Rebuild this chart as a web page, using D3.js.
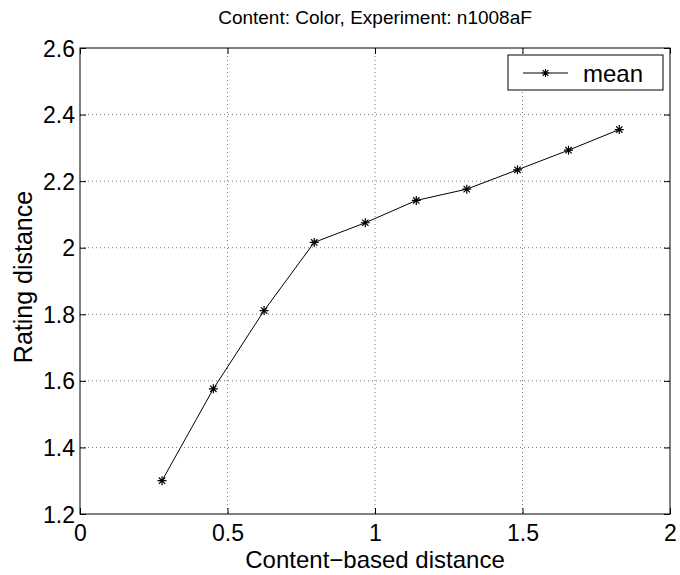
<!DOCTYPE html>
<html>
<head>
<meta charset="utf-8">
<script src="https://cdn.jsdelivr.net/npm/d3@7"></script>
<style>
  html, body { margin: 0; padding: 0; background: #fff; }
  svg { display: block; font-family: "Liberation Sans", Arial, Helvetica, sans-serif; }
  .axis path { display: none; }
  .axis line { stroke: #000; }
  .axis text { fill: #000; font-size: 23px; }
  .grid line { stroke: #777; stroke-dasharray: 1,3; }
</style>
</head>
<body>
<svg id="chart"></svg>
<script>
const titleText = 'Content: Color, Experiment: n1008aF';
const xLabel = 'Content\u2212based distance';
const yLabel = 'Rating distance';
const seriesName = 'mean';

const contentDistance = [0.278, 0.452, 0.624, 0.794, 0.967, 1.140, 1.311, 1.483, 1.656, 1.828];
const meanRating = [1.300, 1.576, 1.811, 2.016, 2.075, 2.142, 2.176, 2.234, 2.293, 2.355];

const xTicks = [0, 0.5, 1, 1.5, 2];
const yTicks = [1.2, 1.4, 1.6, 1.8, 2, 2.2, 2.4, 2.6];

const width = 680;
const height = 575;
const padding = { top: 48, left: 80, bottom: 61, right: 10 };
const canvasWidth = width - padding.left - padding.right;
const canvasHeight = height - padding.top - padding.bottom;

// MATLAB style '*' marker: a plus and a cross
const starSymbol = {
  draw(ctx, size) {
    const r = Math.sqrt(size) / 2;
    const d = r * Math.SQRT1_2;
    ctx.moveTo(-r, 0); ctx.lineTo(r, 0);
    ctx.moveTo(0, -r); ctx.lineTo(0, r);
    ctx.moveTo(-d, -d); ctx.lineTo(d, d);
    ctx.moveTo(-d, d); ctx.lineTo(d, -d);
  }
};

const svg = d3.select('#chart').attr('width', width).attr('height', height);
const canvas = svg.append('g').attr('transform', `translate(${padding.left},${padding.top})`);

const xScale = d3.scaleLinear().domain([0, 2]).range([0, canvasWidth]);
const yScale = d3.scaleLinear().domain([1.2, 2.6]).range([canvasHeight, 0]);

// grid
canvas.append('g').attr('class', 'grid')
  .selectAll('line').data(xTicks.slice(1, -1)).enter().append('line')
  .attr('x1', d => xScale(d)).attr('x2', d => xScale(d))
  .attr('y1', 0).attr('y2', canvasHeight);
canvas.append('g').attr('class', 'grid')
  .selectAll('line').data(yTicks.slice(1, -1)).enter().append('line')
  .attr('y1', d => yScale(d)).attr('y2', d => yScale(d))
  .attr('x1', 0).attr('x2', canvasWidth);

// axes with inward ticks
const tickLen = 6;
const xAxisDOM = canvas.append('g').attr('class', 'axis')
  .attr('transform', `translate(0,${canvasHeight})`)
  .call(d3.axisBottom(xScale).tickValues(xTicks).tickSizeInner(-tickLen).tickSizeOuter(0).tickPadding(10).tickFormat(d3.format('')));
canvas.append('g').attr('class', 'axis')
  .call(d3.axisTop(xScale).tickValues(xTicks).tickSizeInner(-tickLen).tickSizeOuter(0).tickFormat(''));
const yAxisDOM = canvas.append('g').attr('class', 'axis')
  .call(d3.axisLeft(yScale).tickValues(yTicks).tickSizeInner(-tickLen).tickSizeOuter(0).tickPadding(5).tickFormat(d3.format('')));
canvas.append('g').attr('class', 'axis')
  .attr('transform', `translate(${canvasWidth},0)`)
  .call(d3.axisRight(yScale).tickValues(yTicks).tickSizeInner(-tickLen).tickSizeOuter(0).tickFormat(''));

xAxisDOM.selectAll('text').attr('dy', null).attr('dominant-baseline', 'hanging');
yAxisDOM.selectAll('text').attr('dy', null).attr('dominant-baseline', 'central');

// frame
canvas.append('rect')
  .attr('width', canvasWidth).attr('height', canvasHeight)
  .attr('fill', 'none').attr('stroke', '#000').attr('stroke-width', 1);

// data
const points = contentDistance.map((x, i) => ({ x, y: meanRating[i] }));
const line = d3.line().x(d => xScale(d.x)).y(d => yScale(d.y));
canvas.append('path').datum(points)
  .attr('d', line).attr('fill', 'none').attr('stroke', '#000').attr('stroke-width', 1);
canvas.selectAll('path.marker').data(points).enter().append('path')
  .attr('class', 'marker')
  .attr('transform', d => `translate(${xScale(d.x)},${yScale(d.y)})`)
  .attr('d', d3.symbol().type(starSymbol).size(81))
  .attr('fill', 'none').attr('stroke', '#000').attr('stroke-width', 1.2);

// legend
const legend = canvas.append('g').attr('transform', `translate(${canvasWidth - 162},7)`);
legend.append('rect').attr('width', 155).attr('height', 35)
  .attr('fill', '#fff').attr('stroke', '#000').attr('stroke-width', 1);
legend.append('line').attr('x1', 15).attr('x2', 60).attr('y1', 18).attr('y2', 18)
  .attr('stroke', '#000').attr('stroke-width', 1);
legend.append('path').attr('transform', 'translate(37.5,18)')
  .attr('d', d3.symbol().type(starSymbol).size(64))
  .attr('fill', 'none').attr('stroke', '#000').attr('stroke-width', 1.2);
legend.append('text').attr('x', 75).attr('y', 27).attr('font-size', 24).text(seriesName);

// titles
svg.append('text').attr('x', padding.left + canvasWidth / 2).attr('y', 24)
  .attr('text-anchor', 'middle').attr('font-size', 19).text(titleText);
svg.append('text').attr('x', padding.left + canvasWidth / 2).attr('y', 568)
  .attr('text-anchor', 'middle').attr('font-size', 24).text(xLabel);
svg.append('text').attr('transform', `translate(32,${padding.top + canvasHeight / 2 - 4}) rotate(-90)`)
  .attr('text-anchor', 'middle').attr('font-size', 25).text(yLabel);
</script>
</body>
</html>
